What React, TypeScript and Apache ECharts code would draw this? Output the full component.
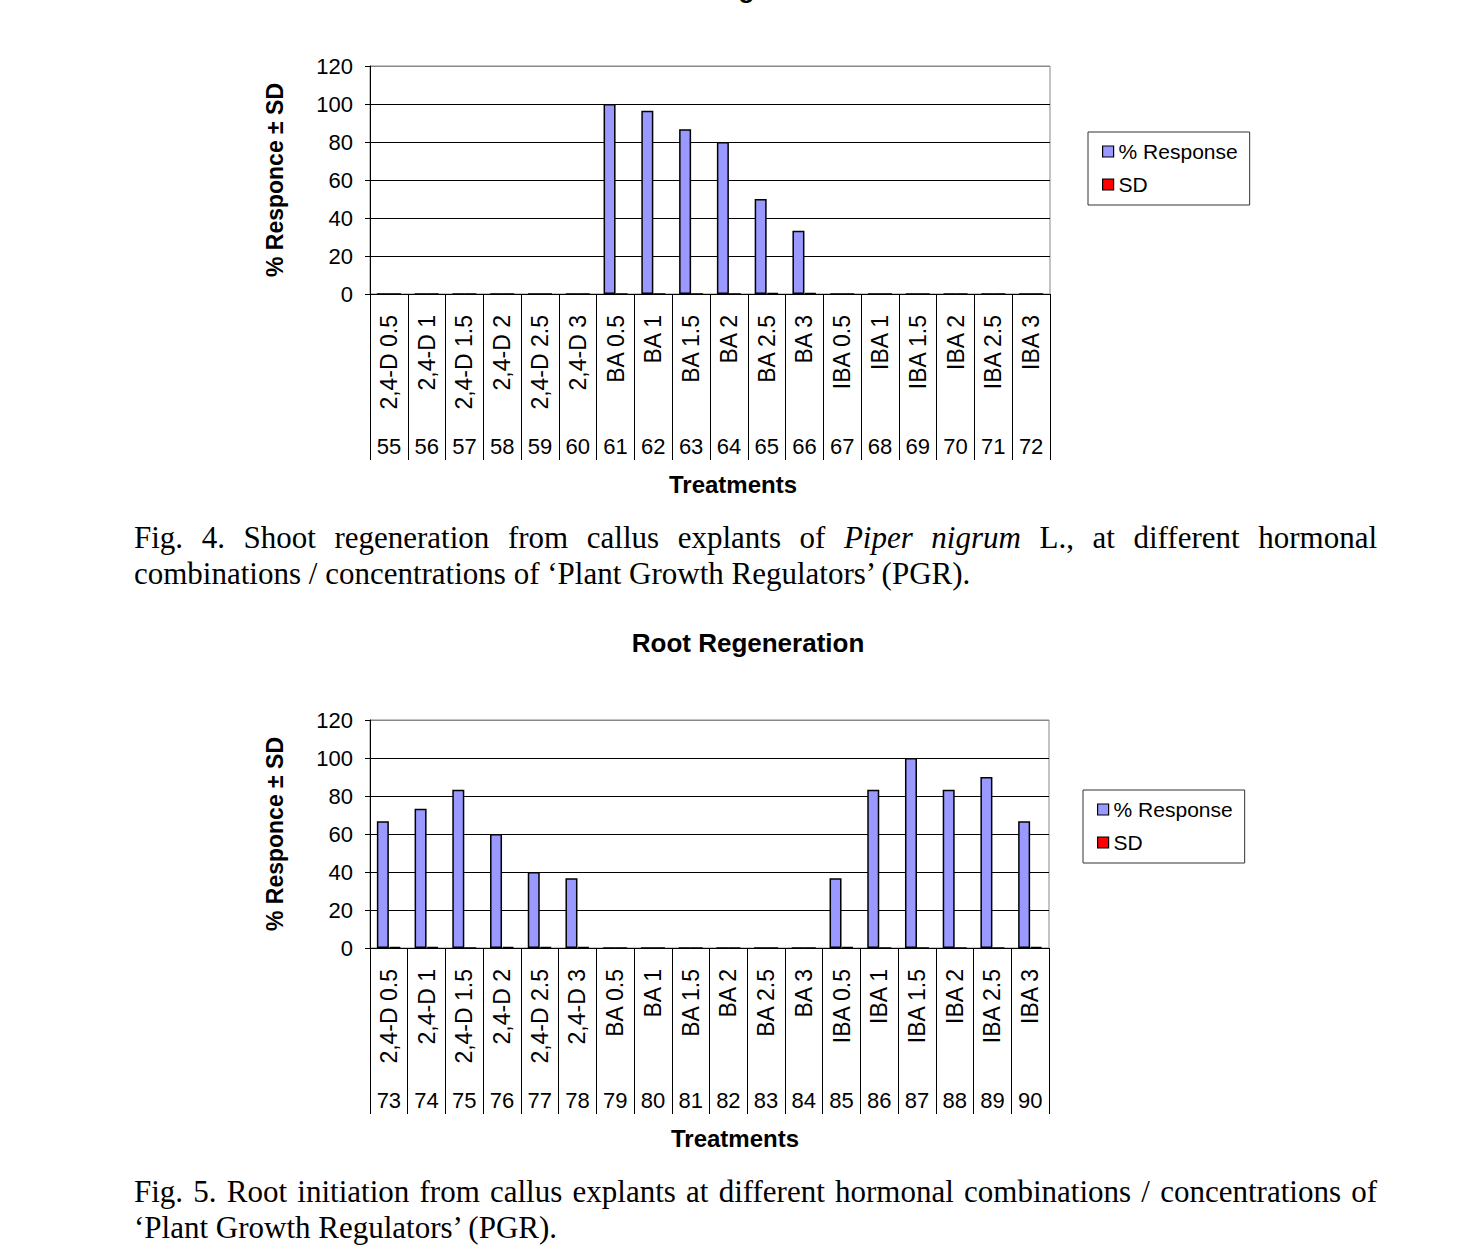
import React, { useEffect, useRef } from "react";
import * as echarts from "echarts";

const categories = [
  "2,4-D 0.5", "2,4-D 1", "2,4-D 1.5", "2,4-D 2", "2,4-D 2.5", "2,4-D 3",
  "BA 0.5", "BA 1", "BA 1.5", "BA 2", "BA 2.5", "BA 3",
  "IBA 0.5", "IBA 1", "IBA 1.5", "IBA 2", "IBA 2.5", "IBA 3",
];
const shootIds = ["55", "56", "57", "58", "59", "60", "61", "62", "63", "64", "65", "66", "67", "68", "69", "70", "71", "72"];
const rootIds = ["73", "74", "75", "76", "77", "78", "79", "80", "81", "82", "83", "84", "85", "86", "87", "88", "89", "90"];

const shootResponse = [0, 0, 0, 0, 0, 0, 100, 96.5, 86.7, 80, 50, 33.3, 0, 0, 0, 0, 0, 0];
const shootSD = [0, 0, 0, 0, 0, 0, 0, 0, 0, 0, 0.6, 0.6, 0, 0, 0, 0, 0, 0];
const rootResponse = [66.7, 73.3, 83.3, 60, 40, 36.7, 0, 0, 0, 0, 0, 0, 36.7, 83.3, 100, 83.3, 90, 66.7];
const rootSD = [0.6, 0.6, 0, 0.6, 0.6, 0.6, 0, 0, 0, 0, 0, 0, 0.6, 0, 0, 0, 0, 0.6];

const yTicks = { min: 0, max: 120, interval: 20 };
const seriesNames = ["% Response", "SD"];

const SANS = "'Liberation Sans', Arial, sans-serif";
const SERIF = "'Liberation Serif', 'Times New Roman', serif";

type Word = { t: string; italic?: boolean };
const fig4Line1: Word[] = [
  { t: "Fig." }, { t: "4." }, { t: "Shoot" }, { t: "regeneration" }, { t: "from" }, { t: "callus" },
  { t: "explants" }, { t: "of" }, { t: "Piper", italic: true }, { t: "nigrum", italic: true }, { t: "L.," },
  { t: "at" }, { t: "different" }, { t: "hormonal" },
];
const fig4Line2 = "combinations / concentrations of \u2018Plant Growth Regulators\u2019 (PGR).";
const fig5Line1: Word[] = [
  { t: "Fig." }, { t: "5." }, { t: "Root" }, { t: "initiation" }, { t: "from" }, { t: "callus" },
  { t: "explants" }, { t: "at" }, { t: "different" }, { t: "hormonal" }, { t: "combinations" },
  { t: "/" }, { t: "concentrations" }, { t: "of" },
];
const fig5Line2 = "\u2018Plant Growth Regulators\u2019 (PGR).";

const CAP_SIZE = 31;
const CAP_X0 = 134;
const CAP_X1 = 1377;

function measure(text: string, italic: boolean): number {
  const ctx = document.createElement("canvas").getContext("2d");
  if (!ctx) return text.length * CAP_SIZE * 0.45;
  ctx.font = `${italic ? "italic " : ""}${CAP_SIZE}px ${SERIF}`;
  return ctx.measureText(text).width;
}

function capText(text: string, x: number, y: number, italic = false) {
  return {
    type: "text",
    x,
    y,
    silent: true,
    style: {
      text,
      fontFamily: SERIF,
      fontSize: CAP_SIZE,
      fontStyle: italic ? "italic" : "normal",
      fill: "#000",
      textAlign: "left",
      textVerticalAlign: "middle",
      align: "left",
      verticalAlign: "middle",
    },
  };
}

function justifiedLine(words: Word[], y: number) {
  const widths = words.map((w) => measure(w.t, !!w.italic));
  const total = widths.reduce((a, b) => a + b, 0);
  const gap = (CAP_X1 - CAP_X0 - total) / (words.length - 1);
  let x = CAP_X0;
  return words.map((w, i) => {
    const el = capText(w.t, x, y, !!w.italic);
    x += widths[i] + gap;
    return el;
  });
}

function boldText(text: string, x: number, y: number, size: number) {
  return {
    type: "text",
    x,
    y,
    silent: true,
    style: {
      text,
      fontFamily: SANS,
      fontSize: size,
      fontWeight: "bold",
      fill: "#000",
      textAlign: "center",
      textVerticalAlign: "middle",
      align: "center",
      verticalAlign: "middle",
    },
  };
}

function buildOption() {
  const grids = [
    { left: 370, top: 66, width: 680, height: 228 },
    { left: 370, top: 720, width: 679, height: 228 },
  ];
  const idsList = [shootIds, rootIds];
  const xAxis: any[] = [];
  const yAxis: any[] = [];
  grids.forEach((_, g) => {
    xAxis.push({
      gridIndex: g,
      type: "category",
      data: categories,
      boundaryGap: true,
      axisLine: { show: true, lineStyle: { color: "#000", width: 1 } },
      axisTick: { show: true, interval: 0, length: 166, lineStyle: { color: "#000", width: 1 } },
      axisLabel: { interval: 0, rotate: 90, fontSize: 23, fontFamily: SANS, color: "#000", margin: 21 },
      splitLine: { show: false },
    });
    xAxis.push({
      gridIndex: g,
      type: "category",
      data: idsList[g],
      position: "bottom",
      offset: 140,
      axisLine: { show: false },
      axisTick: { show: false },
      axisLabel: { interval: 0, fontSize: 22, fontFamily: SANS, color: "#000", margin: 1 },
      splitLine: { show: false },
    });
    yAxis.push({
      gridIndex: g,
      type: "value",
      min: yTicks.min,
      max: yTicks.max,
      interval: yTicks.interval,
      name: "% Responce \u00b1 SD",
      nameLocation: "middle",
      nameGap: 84,
      nameTextStyle: { fontSize: 23, fontWeight: "bold", fontFamily: SANS, color: "#000" },
      axisLine: { show: true, lineStyle: { color: "#000", width: 1 } },
      axisTick: { show: true, length: 5, lineStyle: { color: "#000" } },
      axisLabel: { fontSize: 22, fontFamily: SANS, color: "#000", margin: 17 },
      splitLine: {
        show: true,
        lineStyle: { color: ["#000", "#000", "#000", "#000", "#000", "#000", "#888"], width: 1 },
      },
    });
  });

  const respData = [shootResponse, rootResponse];
  const sdData = [shootSD, rootSD];
  const series: any[] = [];
  grids.forEach((_, g) => {
    series.push({
      type: "bar",
      name: seriesNames[0],
      xAxisIndex: g * 2,
      yAxisIndex: g,
      data: respData[g],
      barWidth: 12,
      barGap: "0%",
      itemStyle: { color: "#9999FF", borderColor: "#000", borderWidth: 1.5 },
    });
    series.push({
      type: "bar",
      name: seriesNames[1],
      xAxisIndex: g * 2,
      yAxisIndex: g,
      data: sdData[g],
      barWidth: 12,
      barGap: "0%",
      itemStyle: { color: "#FF0000", borderColor: "#000", borderWidth: 1.5 },
    });
  });

  const legendBase = {
    orient: "vertical",
    data: seriesNames,
    icon: "rect",
    itemWidth: 11,
    itemHeight: 11,
    itemGap: 12,
    padding: [9, 12, 10, 14],
    borderColor: "#333",
    borderWidth: 1,
    itemStyle: { borderColor: "#000", borderWidth: 1.2 },
    textStyle: { fontSize: 21, fontFamily: SANS, color: "#000" },
    selectedMode: false,
  };
  const legend = [
    { ...legendBase, left: 1088, top: 132 },
    { ...legendBase, left: 1083, top: 790 },
  ];

  const graphic: any[] = [
    boldText("Shoot Regeneration", 748, -11, 26),
    boldText("Root Regeneration", 748, 643, 26),
    boldText("Treatments", 733, 484, 24),
    boldText("Treatments", 735, 1138, 24),
    ...justifiedLine(fig4Line1, 537),
    capText(fig4Line2, CAP_X0, 573),
    ...justifiedLine(fig5Line1, 1191),
    capText(fig5Line2, CAP_X0, 1227),
  ];

  return {
    animation: false,
    backgroundColor: "#fff",
    textStyle: { fontFamily: SANS },
    grid: grids.map((g) => ({ ...g, show: true, borderColor: "#888", borderWidth: 1, backgroundColor: "transparent" })),
    xAxis,
    yAxis,
    legend,
    series,
    graphic,
  };
}

export default function App() {
  const ref = useRef<HTMLDivElement>(null);
  useEffect(() => {
    if (!ref.current) return;
    const chart = echarts.init(ref.current, undefined, { renderer: "svg" });
    chart.setOption(buildOption() as any);
    return () => chart.dispose();
  }, []);
  return (
    <div
      ref={ref}
      style={{ position: "absolute", left: 0, top: 0, width: 1464, height: 1254, background: "#fff" }}
    />
  );
}
